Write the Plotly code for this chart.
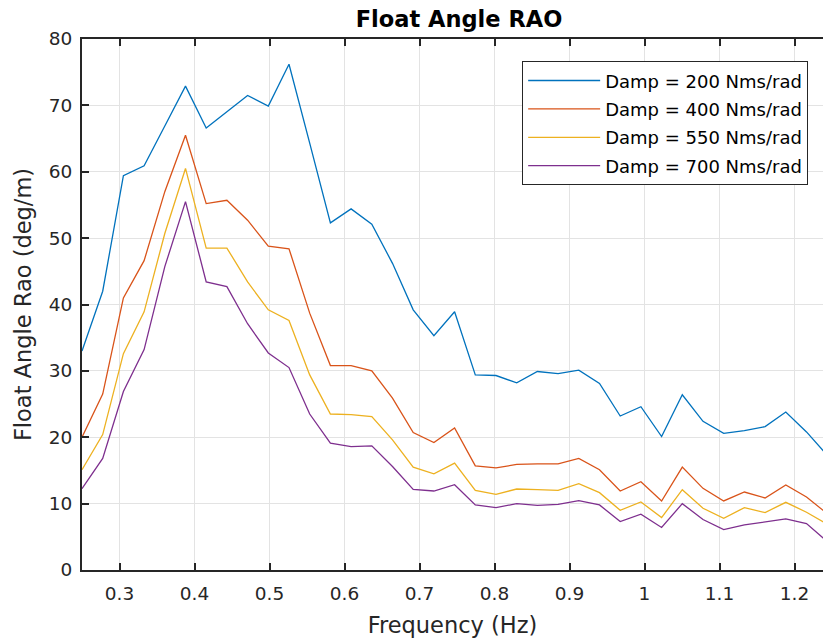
import plotly.graph_objects as go

freq = [0.25, 0.2776, 0.3052, 0.3328, 0.3604, 0.388, 0.4156, 0.4432, 0.4708, 0.4984,
        0.526, 0.5536, 0.5812, 0.6088, 0.6364, 0.664, 0.6916, 0.7192, 0.7468, 0.7744,
        0.802, 0.8296, 0.8572, 0.8848, 0.9124, 0.94, 0.9676, 0.9952, 1.0228, 1.0504,
        1.078, 1.1056, 1.1332, 1.1608, 1.1884, 1.216, 1.2436]

damp_200 = [33.0, 42.0, 59.4, 60.9, 66.9, 72.9, 66.6, 69.0, 71.5, 69.9,
            76.2, 64.3, 52.3, 54.4, 52.1, 46.2, 39.2, 35.3, 38.9, 29.4,
            29.3, 28.2, 29.9, 29.6, 30.1, 28.1, 23.2, 24.6, 20.1, 26.4,
            22.4, 20.6, 21.0, 21.6, 23.8, 20.8, 17.3]
damp_400 = [20.0, 26.5, 41.0, 46.6, 57.0, 65.5, 55.2, 55.7, 52.7, 48.8,
            48.4, 38.7, 30.8, 30.8, 30.0, 25.9, 20.7, 19.2, 21.4, 15.7,
            15.4, 15.9, 16.0, 16.0, 16.8, 15.1, 11.9, 13.3, 10.4, 15.5,
            12.3, 10.4, 11.75, 10.85, 12.8, 11.0, 8.5]
damp_550 = [15.1, 20.4, 32.6, 38.9, 50.7, 60.5, 48.5, 48.5, 43.4, 39.2,
            37.6, 29.4, 23.5, 23.4, 23.1, 19.6, 15.5, 14.5, 16.1, 12.0,
            11.4, 12.2, 12.1, 12.0, 13.0, 11.65, 9.0, 10.25, 7.9, 12.1,
            9.3, 7.8, 9.4, 8.65, 10.2, 8.7, 6.9]
damp_700 = [12.25, 16.8, 26.9, 33.2, 45.7, 55.5, 43.4, 42.7, 37.1, 32.7,
            30.5, 23.5, 19.1, 18.6, 18.7, 15.6, 12.15, 11.9, 12.85, 9.8,
            9.4, 10.0, 9.75, 9.9, 10.45, 9.8, 7.3, 8.4, 6.4, 10.0,
            7.6, 6.1, 6.8, 7.3, 7.7, 7.0, 4.3]

series_names = ["Damp = 200 Nms/rad", "Damp = 400 Nms/rad",
                "Damp = 550 Nms/rad", "Damp = 700 Nms/rad"]
series_values = [damp_200, damp_400, damp_550, damp_700]
colors = ["#0072BD", "#D95319", "#EDB120", "#7E2F8E"]

x_tickvals = [0.3, 0.4, 0.5, 0.6, 0.7, 0.8, 0.9, 1.0, 1.1, 1.2]
x_ticktext = ["0.3", "0.4", "0.5", "0.6", "0.7", "0.8", "0.9", "1", "1.1", "1.2"]

FONT = "DejaVu Sans, Verdana, sans-serif"
AX = "#262626"

fig = go.Figure()
for i, (name, vals, col) in enumerate(zip(series_names, series_values, colors)):
    fig.add_trace(go.Scatter(x=freq, y=vals, mode="lines", name=name,
                             legendgroup=f"g{i}",
                             line=dict(color=col, width=1.3)))

fig.update_layout(
    width=823, height=643,
    margin=dict(l=82, r=0, t=39, b=73),
    paper_bgcolor="white", plot_bgcolor="white",
    font=dict(family=FONT, color=AX),
    title=dict(text="<b>Float Angle RAO</b>", x=459 / 823, xanchor="center",
               y=1 - 19 / 643, yanchor="middle",
               font=dict(size=22.5, color="black", family=FONT)),
    showlegend=True,
    legend=dict(x=0.594, y=0.958, xanchor="left", yanchor="top",
                bgcolor="white", bordercolor=AX, borderwidth=1,
                font=dict(size=18, color="black", family=FONT),
                itemwidth=72, tracegroupgap=2),
)
fig.update_xaxes(
    range=[0.25, 1.238], tickvals=x_tickvals, ticktext=x_ticktext,
    showgrid=True, gridcolor="#e3e3e3", gridwidth=1,
    showline=True, linecolor=AX, linewidth=2, mirror="ticks",
    ticks="inside", ticklen=7, tickwidth=2, tickcolor=AX,
    tickfont=dict(size=18.5, color=AX), zeroline=False,
    ticklabelstandoff=6,
    title=dict(text="Frequency (Hz)", font=dict(size=22.5, color=AX), standoff=14),
)
fig.update_yaxes(
    range=[0, 80], dtick=10,
    showgrid=True, gridcolor="#e3e3e3", gridwidth=1,
    showline=True, linecolor=AX, linewidth=2, mirror=False,
    ticks="inside", ticklen=7, tickwidth=2, tickcolor=AX,
    tickfont=dict(size=18.5, color=AX), zeroline=False,
    ticklabelstandoff=4,
    title=dict(text="Float Angle Rao (deg/m)", font=dict(size=22.5, color=AX), standoff=11),
)

fig.write_html("out.html")
